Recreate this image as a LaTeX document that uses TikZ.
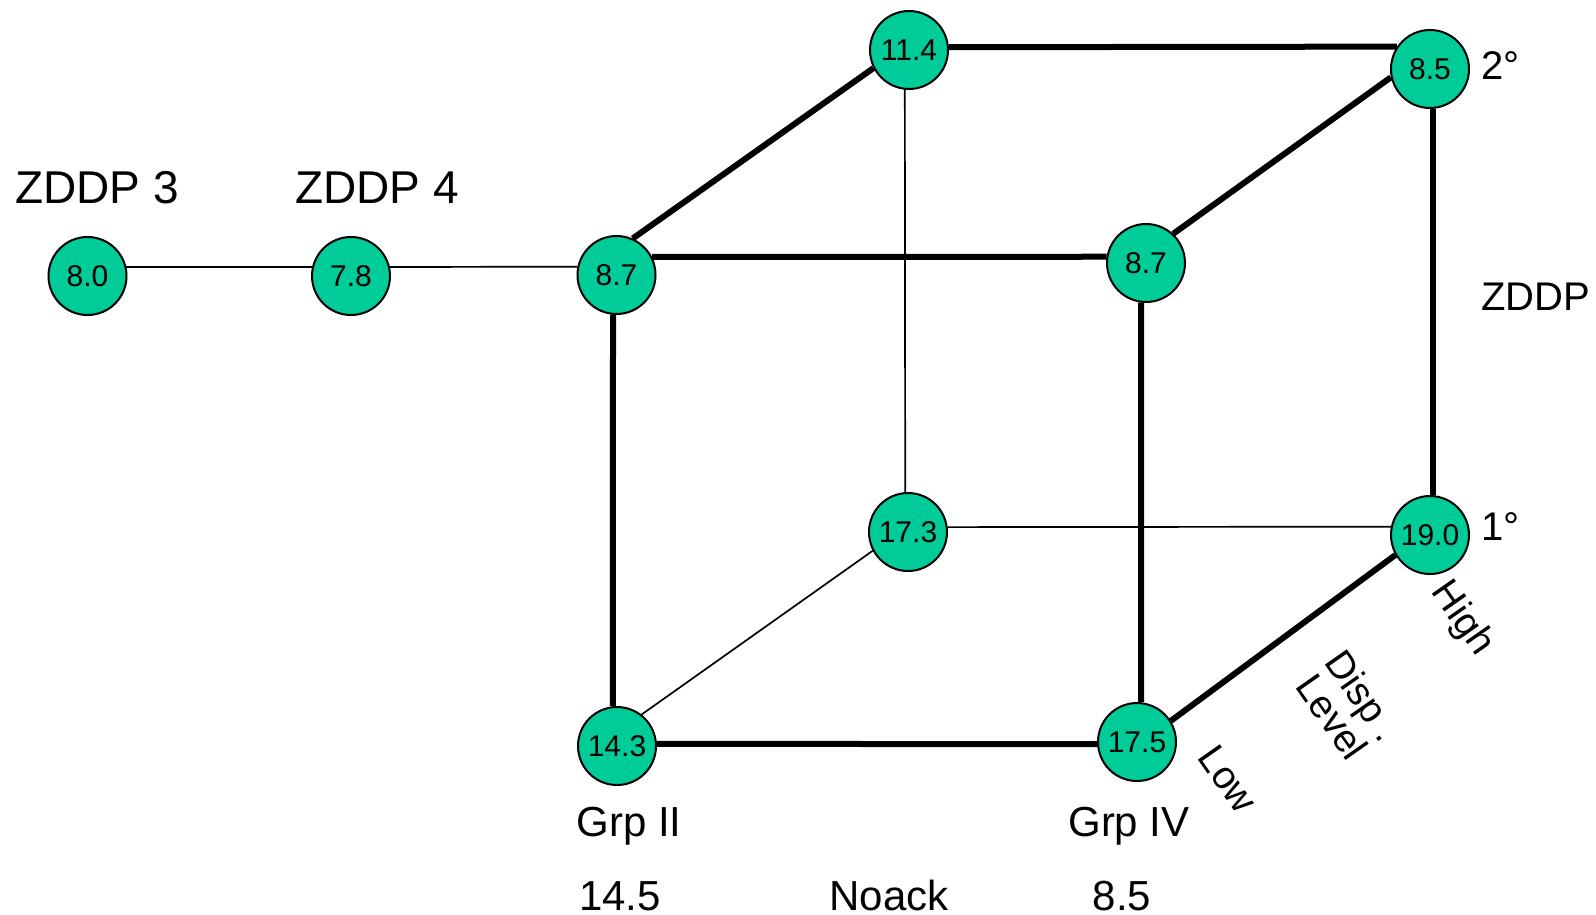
\documentclass[tikz,border=0pt]{standalone}
\usepackage{fontspec}
\setmainfont{Liberation Sans}
\definecolor{nodegreen}{RGB}{0,204,153}
\begin{document}
\begin{tikzpicture}[x=0.5pt,y=-0.5pt,
  val/.style={circle, draw=black, line width=1pt, fill=nodegreen, minimum size=39pt, inner sep=0pt, font=\fontsize{15}{18}\selectfont},
  heavy/.style={line width=3pt},
  light/.style={line width=0.85pt},
  biglab/.style={inner sep=0pt, anchor=base, font=\fontsize{23}{27}\selectfont},
  lab/.style={inner sep=0pt, anchor=base, font=\fontsize{21}{25}\selectfont},
  sidelab/.style={inner sep=0pt, anchor=base west, font=\fontsize{20}{24}\selectfont},
  rotlab/.style={inner sep=0pt, anchor=center, rotate=-55, align=center, font=\fontsize{19.5}{19}\selectfont}]
\useasboundingbox (0,0) rectangle (1596,915);

% value nodes
\node[val] (z3)  at (87.5,276) {8.0};
\node[val] (z4)  at (351,276) {7.8};
\node[val] (a)   at (616.5,275) {8.7};
\node[val] (b)   at (909,50) {11.4};
\node[val] (c)   at (1430,69) {8.5};
\node[val] (d)   at (1146,263) {8.7};
\node[val] (e)   at (908,532) {17.3};
\node[val] (f)   at (1430,535) {19.0};
\node[val] (g)   at (617,746) {14.3};
\node[val] (h)   at (1137,742) {17.5};

% thin connectors
\draw[light] (z3.13) -- (z4.167);
\draw[light] (z4.13) -- (a.168);
\draw[light] (b.264) -- (e.94);
\draw[light] (e.7) -- (f.168);
\draw[light] (e.208) -- (g.52);

% thick connectors
\draw[heavy] (a.27) -- (d.171);
\draw[heavy] (a.66) -- (b.207);
\draw[heavy] (b.4) -- (c.146);
\draw[heavy] (d.47) -- (c.192);
\draw[heavy] (c.274) -- (f.86);
\draw[heavy] (a.265) -- (g.96);
\draw[heavy] (d.263) -- (h.84);
\draw[heavy] (g.3) -- (h.183);
\draw[heavy] (h.32) -- (f.210);

% labels
\node[biglab] (l1) at (97,203.6) {ZDDP 3};
\node[biglab] (l2) at (377,203.6) {ZDDP 4};
\node[sidelab] (l3) at (1481,80) {2°};
\node[sidelab] (l4) at (1481,310) {ZDDP};
\node[sidelab] (l5) at (1481,540) {1°};
\node[lab] (l6) at (629,836) {Grp II};
\node[lab] (l7) at (1129,836) {Grp IV};
\node[lab] (l8) at (620,910) {14.5};
\node[lab] (l9) at (889,910) {Noack};
\node[lab] (l10) at (1122,910) {8.5};
\node[rotlab] (l11) at (1462,619) {High};
\node[rotlab] (l12) at (1348,706) {Disp .\\Level};
\node[rotlab] (l13) at (1228,779) {Low};
\end{tikzpicture}
\end{document}
